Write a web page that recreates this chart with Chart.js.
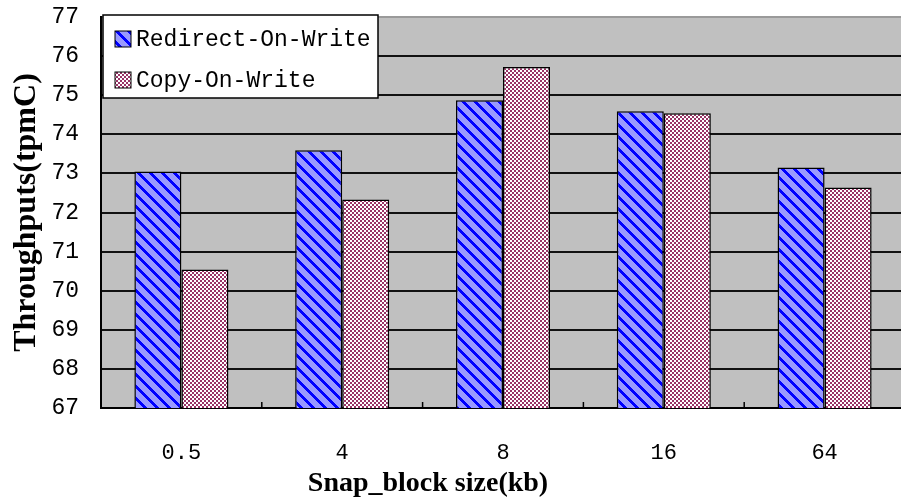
<!DOCTYPE html>
<html>
<head>
<meta charset="utf-8">
<script src="https://cdn.jsdelivr.net/npm/chart.js@4.4.0/dist/chart.umd.min.js"></script>
<style>
	html, body { margin: 0; padding: 0; background: #fff; overflow: hidden; }
	#wrap { width: 906px; height: 502px; }
</style>
</head>
<body>
<div id="wrap"><canvas id="myChart"></canvas></div>
<script>
	// 블록 크기 (x축 카테고리)
	const blockSizes = ['0.5', '4', '8', '16', '64'];
	// 시리즈 값 (tpmC)
	const redirectOnWrite = [73.05, 73.59, 74.87, 74.59, 73.15];
	const copyOnWrite = [70.54, 72.33, 75.72, 74.54, 72.64];
	const seriesNames = ['Redirect-On-Write', 'Copy-On-Write'];
	// y축 눈금
	const yMin = 67, yMax = 77, yStep = 1;
	const xTitle = 'Snap_block size(kb)';
	const yTitle = 'Throughputs(tpmC)';

	const MONO = '"Liberation Mono", "DejaVu Sans Mono", monospace';
	const SERIF = '"Liberation Serif", "DejaVu Serif", serif';

	// 빗금 패턴 (파랑)
	function stripePattern() {
		const c = document.createElement('canvas');
		c.width = 12; c.height = 12;
		const g = c.getContext('2d');
		g.fillStyle = '#9999ff';
		g.fillRect(0, 0, 12, 12);
		g.fillStyle = '#0000ff';
		for (let y = 0; y < 12; y++) {
			for (let x = 0; x < 12; x++) {
				if ((((x - y) % 12) + 12) % 12 < 4) g.fillRect(x, y, 1, 1);
			}
		}
		return g.createPattern(c, 'repeat');
	}

	// 체크 패턴 (자주색)
	function checkerPattern() {
		const c = document.createElement('canvas');
		c.width = 4; c.height = 4;
		const g = c.getContext('2d');
		g.fillStyle = '#ffffff';
		g.fillRect(0, 0, 4, 4);
		g.fillStyle = '#993366';
		g.fillRect(0, 0, 2, 2);
		g.fillRect(2, 2, 2, 2);
		return g.createPattern(c, 'repeat');
	}

	// 플롯 영역 회색 배경
	const plotBg = {
		id: 'plotBg',
		beforeDraw(chart) {
			const { ctx, chartArea: a } = chart;
			ctx.save();
			ctx.fillStyle = '#c0c0c0';
			ctx.fillRect(a.left, a.top, a.right - a.left, a.bottom - a.top);
			ctx.restore();
		}
	};

	// 카테고리 경계 눈금 (안쪽으로)
	const catTicks = {
		id: 'catTicks',
		afterDatasetsDraw(chart) {
			const xs = chart.scales.x;
			const a = chart.chartArea;
			const c = chart.ctx;
			c.save();
			c.strokeStyle = '#000';
			c.lineWidth = 1.5;
			for (let i = 1; i < blockSizes.length; i++) {
				const px = (xs.getPixelForTick(i - 1) + xs.getPixelForTick(i)) / 2;
				c.beginPath();
				c.moveTo(px, a.bottom);
				c.lineTo(px, a.bottom - 6);
				c.stroke();
			}
			c.restore();
		}
	};

	// 범례 박스 (플롯 안 왼쪽 위)
	const boxLegend = {
		id: 'boxLegend',
		afterDraw(chart) {
			const c = chart.ctx;
			const a = chart.chartArea;
			const bx = a.left + 2, by = a.top - 2, bw = 275, bh = 83;
			c.save();
			c.fillStyle = '#fff';
			c.fillRect(bx, by, bw, bh);
			c.strokeStyle = '#000';
			c.lineWidth = 1.5;
			c.strokeRect(bx, by, bw, bh);
			c.font = '23px ' + MONO;
			c.textBaseline = 'middle';
			chart.data.datasets.forEach((ds, i) => {
				const cy = by + 24 + i * 41;
				c.fillStyle = ds.backgroundColor;
				c.fillRect(bx + 12, cy - 8, 16, 16);
				c.lineWidth = 1;
				c.strokeRect(bx + 12, cy - 8, 16, 16);
				c.fillStyle = '#000';
				c.fillText(ds.label, bx + 33, cy + 1);
			});
			c.restore();
		}
	};

	// x축 제목 (왼쪽으로 치우침)
	const xTitleDraw = {
		id: 'xTitleDraw',
		afterDraw(chart) {
			const c = chart.ctx;
			const a = chart.chartArea;
			c.save();
			c.font = 'bold 28px ' + SERIF;
			c.fillStyle = '#000';
			c.textAlign = 'center';
			c.textBaseline = 'alphabetic';
			c.fillText(xTitle, a.left + 327, chart.height - 11);
			c.restore();
		}
	};

	const ctx = document.querySelector('#myChart');
	const snapChart = new Chart(ctx, {
		type: 'bar',
		data: {
			labels: blockSizes,
			datasets: [
				{
					label: seriesNames[0],
					data: redirectOnWrite,
					backgroundColor: stripePattern(),
					borderColor: '#000',
					borderWidth: 1.5
				},
				{
					label: seriesNames[1],
					data: copyOnWrite,
					backgroundColor: checkerPattern(),
					borderColor: '#000',
					borderWidth: 1.5
				}
			]
		},
		options: {
			responsive: true,
			maintainAspectRatio: false,
			animation: false,
			layout: { padding: { top: 17, right: 1, left: 0, bottom: 0 } },
			datasets: { bar: { categoryPercentage: 0.585, barPercentage: 1.0 } },
			plugins: {
				legend: { display: false },
				tooltip: { enabled: false }
			},
			scales: {
				x: {
					grid: { display: false, drawTicks: false },
					border: { display: true, color: '#000', width: 2 },
					ticks: { color: '#000', font: { family: MONO, size: 22 }, padding: 32 },
					afterFit(s) { s.height = 94; }
				},
				y: {
					min: yMin,
					max: yMax,
					ticks: { stepSize: yStep, color: '#000', font: { family: MONO, size: 23 }, padding: 0 },
					grid: {
						color: (c) => (c.tick && c.tick.value === yMax ? '#9a9a9a' : '#111'),
						lineWidth: 2,
						drawTicks: true,
						tickLength: 22,
						tickColor: 'rgba(0,0,0,0)'
					},
					border: { display: true, color: '#000', width: 2 },
					title: {
						display: true,
						text: yTitle,
						color: '#000',
						font: { family: SERIF, size: 32, weight: 'bold' },
						padding: { top: 8, bottom: 0 }
					},
					afterFit(s) { s.width = 101; }
				}
			}
		},
		plugins: [plotBg, catTicks, boxLegend, xTitleDraw]
	});
</script>
</body>
</html>
